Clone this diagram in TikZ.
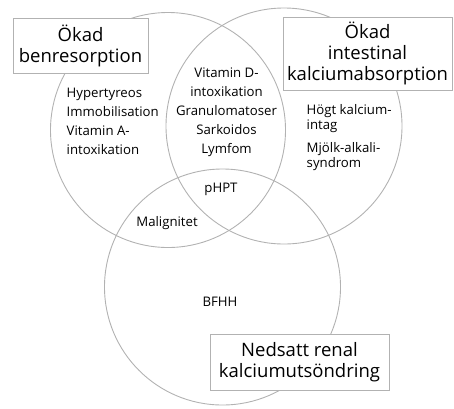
\documentclass[tikz,border=0pt]{standalone}
\usepackage{fontspec}
\setmainfont{Open Sans}
\definecolor{ringgray}{RGB}{178,178,178}
\tikzset{
  ring/.style={draw=ringgray, line width=0.9pt},
  headbox/.style={draw=ringgray, fill=white, line width=0.9pt, align=center,
    inner sep=0pt, font=\fontsize{18.5}{21}\selectfont},
  listtext/.style={inner sep=0pt, font=\fontsize{13.2}{19}\selectfont}
}
\begin{document}
\begin{tikzpicture}[x=1pt, y=-1pt]
            \useasboundingbox (0,0) rectangle (454,408);
            % three circles
            \draw[ring] (168,130) circle (117.5pt);
            \draw[ring] (284,126) circle (118pt);
            \draw[ring] (222.5,287) circle (118pt);
            % headings
            \node[headbox, minimum width=135pt, minimum height=55pt] (bone) at (80.5,45.5) {Ökad\\benresorption};
            \node[headbox, minimum width=169pt, minimum height=73pt] (gut) at (367.5,53.5) {Ökad\\intestinal\\kalciumabsorption};
            \node[headbox, minimum width=179pt, minimum height=56pt] (kidney) at (299.5,362) {Nedsatt renal\\kalciumutsöndring};
            % causes
            \node[listtext, align=left, anchor=west] (bonelist) at (66.5,121.5) {Hypertyreos\\Immobilisation\\Vitamin A-\\intoxikation};
            \node[listtext, align=center] (bothlist) at (226.5,112) {Vitamin D-\\intoxikation\\Granulomatoser\\Sarkoidos\\Lymfom};
            \node[listtext, align=left, anchor=west] (gutlist) at (306.5,137.5) {Högt kalcium-\\[-4pt]intag\\[4pt]Mjölk-alkali-\\[-4pt]syndrom};
            \node[listtext] (phpt) at (221,189) {pHPT};
            \node[listtext] (malign) at (167,223) {Malignitet};
            \node[listtext] (bfhh) at (220,302) {BFHH};
\end{tikzpicture}
\end{document}
